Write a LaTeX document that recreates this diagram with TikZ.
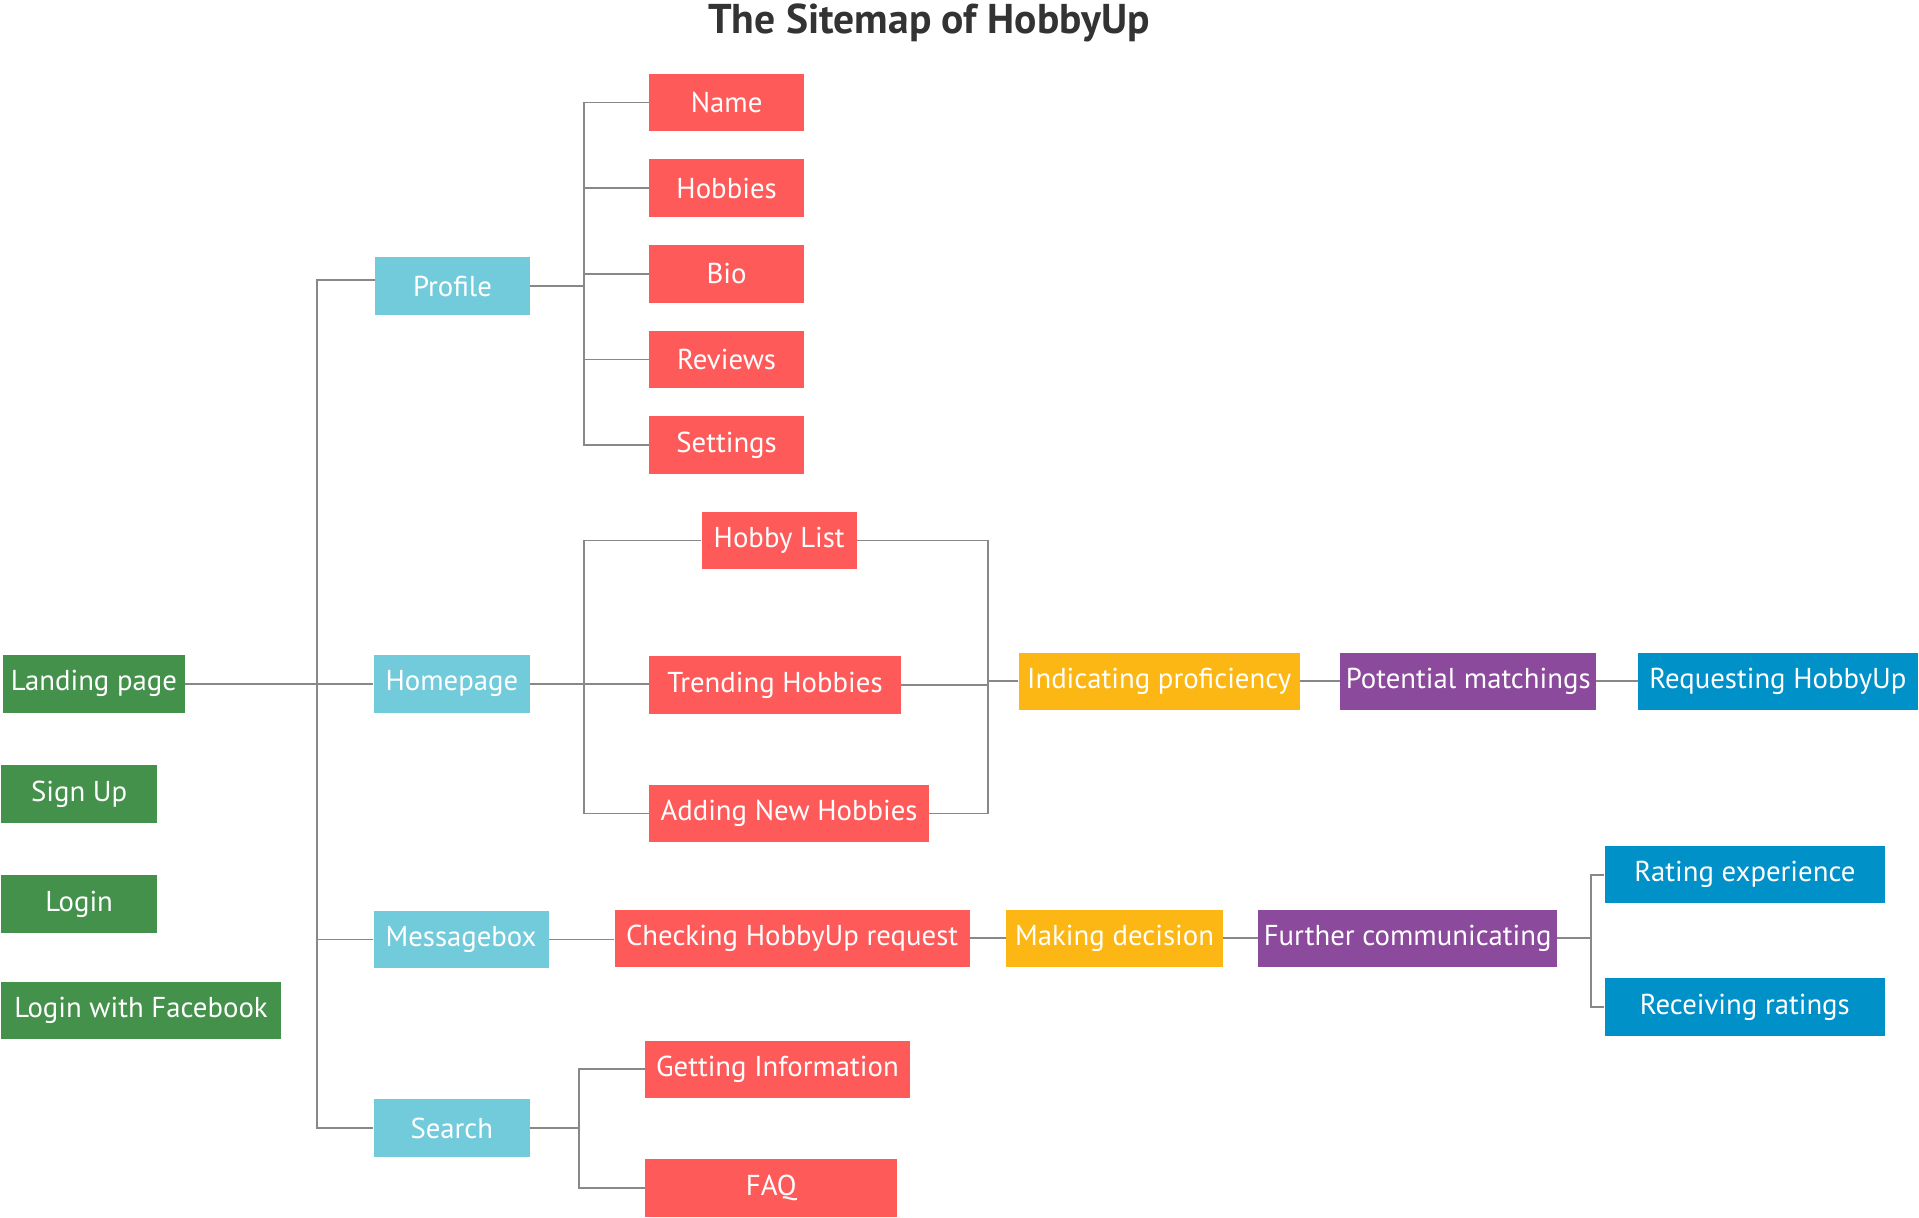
\documentclass[tikz,border=0pt]{standalone}
\usepackage{fontspec}
\setmainfont{PT Sans}
\definecolor{entrygreen}{RGB}{67,145,74}
\definecolor{pagecyan}{RGB}{114,203,219}
\definecolor{partred}{RGB}{255,90,90}
\definecolor{steporange}{RGB}{253,183,20}
\definecolor{matchpurple}{RGB}{139,74,156}
\definecolor{endblue}{RGB}{0,145,201}
\definecolor{linegray}{RGB}{136,136,136}
\definecolor{titlegray}{RGB}{51,51,51}

\begin{document}
\begin{tikzpicture}[x=1pt,y=-1pt,
	box/.style={anchor=north west,inner sep=0pt,minimum height=47pt,text=white,font=\fontsize{23.5}{27}\selectfont},
	entry/.style={box,fill=entrygreen},
	page/.style={box,fill=pagecyan},
	part/.style={box,fill=partred},
	stage/.style={box,fill=steporange},
	match/.style={box,fill=matchpurple},
	goal/.style={box,fill=endblue},
	link/.style={draw=linegray,line width=1.5pt}]
		\useasboundingbox (0,0) rectangle (1568,995);
		\node[font=\fontsize{34}{37}\selectfont\bfseries,text=titlegray] (title) at (759,19) {The Sitemap of HobbyUp};

		\node[entry,minimum width=149pt] (landing) at (2,535) {Landing page};
		\node[entry,minimum width=127pt] (signup) at (1,625) {Sign Up};
		\node[entry,minimum width=127pt] (login) at (1,715) {Login};
		\node[entry,minimum width=228pt] (facebook) at (1,802) {Login with Facebook};

		\node[page,minimum width=127pt] (profile) at (306,210) {Profile};
		\node[page,minimum width=128pt] (homepage) at (305,535) {Homepage};
		\node[page,minimum width=143pt] (messagebox) at (305,744) {Messagebox};
		\node[page,minimum width=128pt] (search) at (305,898) {Search};

		\node[part,minimum width=127pt] (name) at (530,60) {Name};
		\node[part,minimum width=127pt] (hobbies) at (530,130) {Hobbies};
		\node[part,minimum width=127pt] (bio) at (530,200) {Bio};
		\node[part,minimum width=127pt] (reviews) at (530,270) {Reviews};
		\node[part,minimum width=127pt] (settings) at (530,340) {Settings};
		\node[part,minimum width=127pt] (hobbylist) at (573,418) {Hobby List};
		\node[part,minimum width=206pt] (trending) at (530,536) {Trending Hobbies};
		\node[part,minimum width=229pt] (adding) at (530,641) {Adding New Hobbies};
		\node[part,minimum width=290pt] (checking) at (502,743) {Checking HobbyUp request};
		\node[part,minimum width=216pt] (getinfo) at (527,850) {Getting Information};
		\node[part,minimum width=206pt] (faq) at (527,947) {FAQ};

		\node[stage,minimum width=230pt] (proficiency) at (832,533) {Indicating proficiency};
		\node[stage,minimum width=177pt] (decision) at (822,743) {Making decision};
		\node[match,minimum width=209pt] (matchings) at (1095,533) {Potential matchings};
		\node[match,minimum width=244pt] (communicating) at (1028,743) {Further communicating};
		\node[goal,minimum width=229pt] (requesting) at (1338,533) {Requesting HobbyUp};
		\node[goal,minimum width=229pt] (rating) at (1311,691) {Rating experience};
		\node[goal,minimum width=229pt] (receiving) at (1311,799) {Receiving ratings};

		\coordinate (trunk) at (259,0);
		\coordinate (pbus) at (477,0);
		\coordinate (sbus) at (473,0);
		\coordinate (rbus) at (807,0);
		\coordinate (fbus) at (1300,0);

		\draw[link] (landing.east) -- (homepage.west);
		\draw[link] ([yshift=5pt]profile.west) -| (trunk |- search.west) -- (search.west);
		\draw[link] (messagebox.west) -- (messagebox.west -| trunk);

		\draw[link] (profile.east) -- (profile.east -| pbus);
		\draw[link] (name.west) -| (pbus |- settings.west) -- (settings.west);
		\foreach \n in {hobbies,bio,reviews}
			\draw[link] (\n.west) -- (\n.west -| pbus);

		\draw[link] (homepage.east) -- (trending.west |- homepage.east);
		\draw[link] (hobbylist.west) -| (pbus |- adding.west) -- (adding.west);
		\draw[link] (hobbylist.east) -| (rbus |- adding.east) -- (adding.east);
		\draw[link] (trending.east) -- (trending.east -| rbus);
		\draw[link] (proficiency.west) -- (proficiency.west -| rbus);
		\draw[link] (proficiency) -- (matchings);
		\draw[link] (matchings) -- (requesting);

		\draw[link] (messagebox.east) -- (checking.west |- messagebox.east);
		\draw[link] (checking) -- (decision);
		\draw[link] (decision) -- (communicating);
		\draw[link] (communicating.east) -- (communicating.east -| fbus);
		\draw[link] (rating.west) -| (fbus |- receiving.west) -- (receiving.west);

		\draw[link] (search.east) -- (search.east -| sbus);
		\draw[link] (getinfo.west) -| (sbus |- faq.west) -- (faq.west);
	\end{tikzpicture}
\end{document}
